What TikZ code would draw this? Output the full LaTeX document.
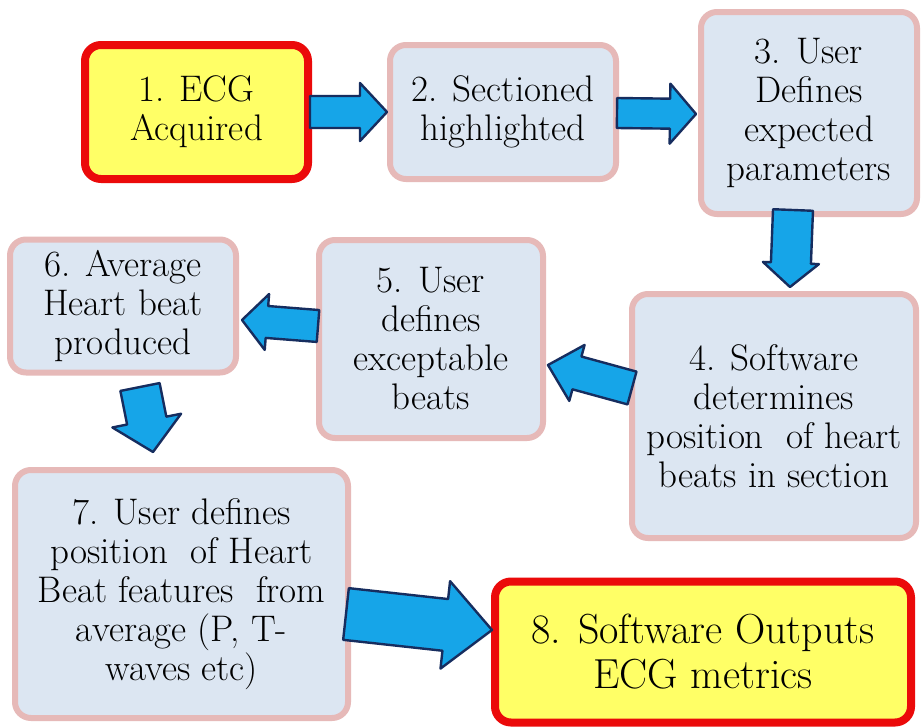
\documentclass[tikz,border=0pt]{standalone}
\usetikzlibrary{calc}
\definecolor{boxfill}{RGB}{220,230,242}
\definecolor{boxline}{RGB}{230,185,184}
\definecolor{yelfill}{RGB}{255,255,102}
\definecolor{redline}{RGB}{235,10,10}
\definecolor{arrfill}{RGB}{22,165,232}
\definecolor{arrline}{RGB}{22,45,95}
\tikzset{
  stepbox/.style={draw=boxline, line width=6pt, fill=boxfill, rounded corners=16pt,
    align=center, inner sep=2pt, text=black,
    font=\fontsize{37}{39}\selectfont},
  keybox/.style={stepbox, draw=redline, line width=8pt, fill=yelfill},
  blockarr/.style={draw=arrline, fill=arrfill, line width=2.4pt, line join=round},
}
% #1 start, #2 tip, #3 shaft half width, #4 head half width, #5 head length
\newcommand{\blockarrow}[5]{%
  \coordinate (h) at ($(#2)!#5!(#1)$);
  \draw[blockarr] ($(#1)!#3!90:(#2)$) -- ($(h)!#3!-90:(#1)$) -- ($(h)!#4!-90:(#1)$)
    -- (#2) -- ($(h)!#4!90:(#1)$) -- ($(h)!#3!90:(#1)$) -- ($(#1)!#3!-90:(#2)$) -- cycle;}
\begin{document}
\begin{tikzpicture}[x=1pt,y=-1pt]
\useasboundingbox (0,0) rectangle (922,728);
\fill[white] (0,0) rectangle (922,728);
\node[keybox, minimum width=223pt, minimum height=134pt] (n1) at (196.5,112) {1. ECG\\Acquired};
\node[stepbox, minimum width=226pt, minimum height=134pt] (n2) at (503,112) {2. Sectioned\\highlighted};
\node[stepbox, minimum width=216pt, minimum height=202pt] (n3) at (809,113) {3. User\\Defines\\expected\\parameters};
\node[stepbox, minimum width=284pt, minimum height=244pt] (n4) at (774,416) {4. Software\\determines\\position\ \ of heart\\beats in section};
\node[stepbox, minimum width=224pt, minimum height=198pt] (n5) at (431,339) {5. User\\defines\\exceptable\\beats};
\node[stepbox, minimum width=226pt, minimum height=133pt] (n6) at (123,306) {6. Average\\Heart beat\\produced};
\node[stepbox, minimum width=333pt, minimum height=248pt] (n7) at (181.5,594) {7. User defines\\position\ \ of Heart\\Beat features\ \ from\\average (P, T-\\waves etc)};
\node[keybox, minimum width=416pt, minimum height=141pt, font=\fontsize{42}{45}\selectfont] (n8) at (703,652) {8. Software Outputs\\ECG metrics};
% arrows
\coordinate (a1s) at ($(n1.east)+(-2,0)$);  \coordinate (a1e) at ($(n2.west)+(0,0)$);
\coordinate (a2s) at ($(n2.east)+(-2,1)$);  \coordinate (a2e) at ($(n3.west)+(-2,1)$);
\coordinate (a3s) at (793,210);              \coordinate (a3e) at (790,287);
\coordinate (a4s) at (632,388);              \coordinate (a4e) at (548,365);
\coordinate (a5s) at (318,326);              \coordinate (a5e) at (242,320);
\coordinate (a6s) at (140,387);              \coordinate (a6e) at (153,452);
\coordinate (a7s) at (346,614);              \coordinate (a7e) at (492,630);
\blockarrow{a1s}{a1e}{16pt}{29pt}{27pt}
\blockarrow{a2s}{a2e}{15pt}{30pt}{26pt}
\blockarrow{a3s}{a3e}{20pt}{28pt}{24pt}
\blockarrow{a4s}{a4e}{17pt}{29pt}{30pt}
\blockarrow{a5s}{a5e}{16pt}{28pt}{25pt}
\blockarrow{a6s}{a6e}{20pt}{35pt}{32pt}
\blockarrow{a7s}{a7e}{26pt}{44pt}{47pt}
\end{tikzpicture}
\end{document}
